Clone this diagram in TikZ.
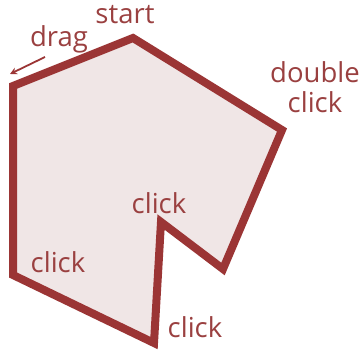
\documentclass[tikz,border=0pt]{standalone}
\usepackage{fontspec}
\setmainfont{Open Sans}
\usepackage{tikz}
\usetikzlibrary{arrows.meta, positioning}
\definecolor{polyred}{HTML}{9B3535}
\definecolor{polyfill}{HTML}{F0E6E6}
\definecolor{labelred}{HTML}{9A4040}
\tikzstyle{arrow}=[-{Stealth[length=7pt, width=7pt]}, line width=1.8pt, color=polyred]

\begin{document}
\begin{tikzpicture}[x=1pt, y=-1pt,
  lbl/.style={text=labelred, font=\fontsize{27.5}{30}\selectfont, inner sep=0pt,
              anchor=base, align=center},
  poly/.style={draw=polyred, fill=polyfill, line width=8pt, line join=miter}
]
\useasboundingbox (0,0) rectangle (363,352);

% corners, in the order they were clicked
\coordinate (v_start) at (133,38);
\coordinate (v_dbl)   at (282,130);
\coordinate (v_notch) at (223,269);
\coordinate (v_inner) at (161,222);
\coordinate (v_bot)   at (154,343);
\coordinate (v_lowl)  at (13,275);
\coordinate (v_upl)   at (13,86);

\draw[poly] (v_start) -- (v_dbl) -- (v_notch) -- (v_inner) -- (v_bot)
            -- (v_lowl) -- (v_upl) -- cycle;

\node[lbl] (start_l) at (125,24)  {start};
\node[lbl] (drag_l)  at (59,47)   {drag};
\node[lbl] (dbl_l)   at (315,113) {double\\click};
\node[lbl] (inner_l) at (159,213) {click};
\node[lbl] (lowl_l)  at (58,272)  {click};
\node[lbl] (bot_l)   at (195,337) {click};

\coordinate (drag_tail) at (45,57);
\coordinate (drag_tip)  at (10,74);
\draw[arrow] (drag_tail) -- (drag_tip);
\end{tikzpicture}
\end{document}
